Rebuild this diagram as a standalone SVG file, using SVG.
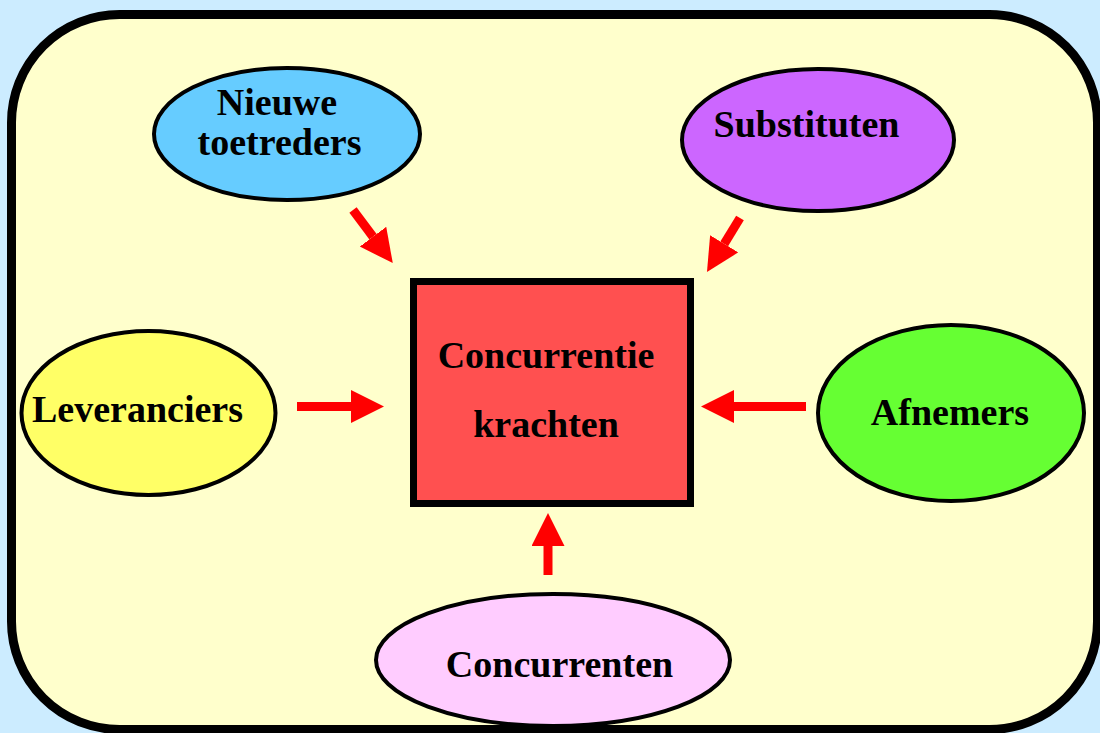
<svg xmlns="http://www.w3.org/2000/svg" width="1100" height="733" viewBox="0 0 1100 733">
  <style>
    .node { stroke: #000; stroke-width: 4; }
    .label { font-family: "Liberation Serif", "Times New Roman", serif; font-weight: bold; font-size: 38px; fill: #000; text-anchor: middle; }
    .arrow { stroke: #FF0000; stroke-width: 9; fill: none; marker-end: url(#head); }
  </style>
  <defs>
    <marker id="head" markerUnits="userSpaceOnUse" markerWidth="34" markerHeight="34" refX="0" refY="16.5" orient="auto">
      <path d="M0,0 L33,16.5 L0,33 Z" fill="#FF0000"/>
    </marker>
  </defs>

  <!-- backdrop and frame -->
  <rect x="0" y="0" width="1100" height="733" fill="#CCECFF"/>
  <rect id="frame" x="11.5" y="14.5" width="1086" height="715" rx="108" ry="108" fill="#FFFFCC" stroke="#000" stroke-width="9"/>

  <g id="connectors">
    <line class="arrow" x1="353" y1="210" x2="373" y2="236.7"/>
    <line class="arrow" x1="740" y1="218" x2="724.2" y2="243.8"/>
    <line class="arrow" x1="297" y1="406.5" x2="351" y2="406.5"/>
    <line class="arrow" x1="806" y1="406.5" x2="734" y2="406.5"/>
    <line class="arrow" x1="548" y1="575" x2="548" y2="546"/>
  </g>

  <g id="center">
    <rect x="413.5" y="281.5" width="277" height="222" fill="#FF5050" stroke="#000" stroke-width="7"/>
    <text class="label" x="546" y="368">Concurrentie</text>
    <text class="label" x="546" y="437">krachten</text>
  </g>

  <g id="nieuwe-toetreders">
    <ellipse class="node" cx="287" cy="134" rx="133" ry="66" fill="#66CCFF"/>
    <text class="label" x="277" y="115">Nieuwe</text>
    <text class="label" x="279.5" y="155">toetreders</text>
  </g>

  <g id="substituten">
    <ellipse class="node" cx="818" cy="140" rx="136" ry="71" fill="#CC66FF"/>
    <text class="label" x="806.5" y="137">Substituten</text>
  </g>

  <g id="leveranciers">
    <ellipse class="node" cx="148.5" cy="413" rx="127" ry="82" fill="#FFFF66"/>
    <text class="label" x="137.5" y="422">Leveranciers</text>
  </g>

  <g id="afnemers">
    <ellipse class="node" cx="951" cy="413" rx="133" ry="88" fill="#66FF33"/>
    <text class="label" x="950" y="425">Afnemers</text>
  </g>

  <g id="concurrenten">
    <ellipse class="node" cx="553" cy="660" rx="177" ry="66" fill="#FFCCFF"/>
    <text class="label" x="559.5" y="677">Concurrenten</text>
  </g>
</svg>
